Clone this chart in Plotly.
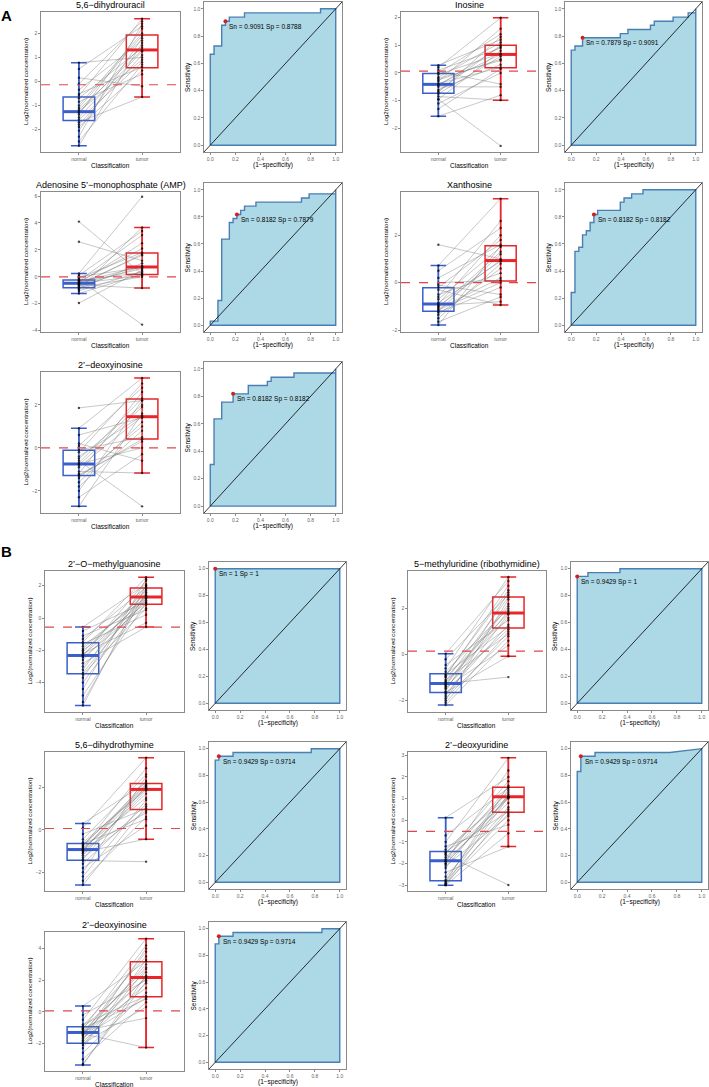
import plotly.graph_objects as go

# ---- data -------------------------------------------------------------
titles = ["5,6−dihydrouracil", "Inosine", "Adenosine 5’−monophosphate (AMP)", "Xanthosine",
          "2’−deoxyinosine", "2’−O−methylguanosine", "5−methyluridine (ribothymidine)",
          "5,6−dihydrothymine", "2’−deoxyuridine", "2’−deoxyinosine"]

# box stats: [lower whisker, q1, median, q3, upper whisker]
normal_box = [[-2.68, -1.63, -1.26, -0.65, 0.78], [-1.56, -0.73, -0.41, -0.02, 0.28],
              [-1.24, -0.81, -0.48, -0.23, 0.25], [-1.79, -1.21, -0.90, -0.21, 0.72],
              [-2.72, -1.28, -0.75, -0.11, 0.91], [-5.42, -3.45, -2.32, -1.53, -0.56],
              [-2.20, -1.65, -1.26, -0.83, 0.04], [-2.60, -1.43, -0.93, -0.64, 0.30],
              [-2.99, -2.79, -1.86, -1.44, 0.12], [-3.37, -2.00, -1.31, -0.95, 0.36]]
tumor_box = [[-0.65, 0.57, 1.31, 1.93, 2.61], [-0.98, 0.19, 0.67, 1.00, 1.99],
             [-0.84, 0.18, 0.73, 1.77, 3.67], [-0.94, 0.07, 0.93, 1.56, 3.54],
             [-1.17, 0.41, 1.45, 2.27, 3.25], [-0.56, 0.85, 1.30, 1.86, 2.52],
             [-0.07, 1.16, 1.81, 2.51, 3.38], [-0.44, 0.96, 1.90, 2.18, 3.39],
             [-1.21, 0.37, 1.09, 1.52, 2.88], [-2.27, 0.95, 2.17, 3.16, 4.63]]
cutoffs = [-0.14, 0.07, 0.0, 0.0, 0.0, -0.56, 0.15, 0.06, -0.51, 0.06]

y_ranges = [[-2.94, 2.89], [-2.85, 2.2], [-4.1, 6.3], [-2.08, 3.82], [-3.03, 3.53],
            [-5.82, 2.91], [-2.5, 3.64], [-2.88, 3.66], [-3.26, 3.15], [-3.75, 5.05]]
y_ticks = [[-2, -1, 0, 1, 2], [-2, -1, 0, 1, 2], [-4, -2, 0, 2, 4, 6], [-2, 0, 2], [-2, 0, 2],
           [-4, -2, 0, 2], [-2, 0, 2], [-2, 0, 2], [-3, -2, -1, 0, 1, 2, 3], [-2, 0, 2, 4]]

normal_pairs = [
    [0.78, 0.52, 0.15, -0.1, -0.35, -0.52, -0.6, -0.7, -0.85, -1.0, -1.1, -1.18, -1.25, -1.3, -1.38, -1.5, -1.6, -1.7, -1.8, -1.9, -2.05, -2.3, -2.5, -2.68],
    [0.28, 0.2, 0.1, 0.05, 0.0, -0.05, -0.15, -0.25, -0.3, -0.38, -0.41, -0.45, -0.5, -0.6, -0.7, -0.75, -0.85, -0.95, -0.95, -1.1, -1.3, -1.56, -0.65, -0.2],
    [4.1, 2.6, -1.95, 0.25, 0.1, 0.0, -0.1, -0.2, -0.25, -0.3, -0.4, -0.45, -0.5, -0.55, -0.6, -0.7, -0.8, -0.85, -0.95, -1.05, -1.24, -0.35, -0.65, -0.5],
    [1.6, 0.72, 0.5, 0.2, 0.0, -0.1, -0.2, -0.3, -0.5, -0.7, -0.85, -0.9, -0.95, -1.0, -1.05, -1.15, -1.2, -1.25, -1.35, -1.5, -1.65, -1.79, -0.6, -1.1],
    [1.86, 0.91, 0.6, 0.2, 0.1, -0.1, -0.2, -0.4, -0.6, -0.7, -0.75, -0.8, -0.9, -1.1, -1.2, -1.3, -1.4, -1.6, -1.8, -2.0, -2.3, -2.72, -0.5, -1.25],
    [-0.56, -0.8, -1.1, -1.3, -1.5, -1.6, -1.75, -1.9, -2.0, -2.1, -2.2, -2.3, -2.35, -2.45, -2.6, -2.8, -3.0, -3.2, -3.4, -3.5, -3.7, -4.0, -4.4, -4.8, -5.2, -5.42],
    [0.04, -0.2, -0.45, -0.6, -0.75, -0.85, -0.9, -1.0, -1.1, -1.15, -1.2, -1.26, -1.3, -1.4, -1.45, -1.5, -1.6, -1.65, -1.7, -1.8, -1.9, -2.0, -2.1, -2.2, -1.35, -0.95],
    [0.3, 0.1, -0.2, -0.45, -0.6, -0.65, -0.7, -0.8, -0.85, -0.9, -0.93, -0.95, -1.0, -1.05, -1.1, -1.2, -1.3, -1.4, -1.45, -1.6, -1.8, -2.0, -2.2, -2.4, -2.6, -0.75],
    [0.12, -0.7, -1.0, -1.2, -1.35, -1.45, -1.5, -1.6, -1.7, -1.8, -1.86, -1.9, -2.0, -2.1, -2.2, -2.4, -2.6, -2.75, -2.8, -2.85, -2.9, -2.95, -2.99, -2.99, -1.55, -2.0],
    [0.36, -0.2, -0.5, -0.8, -0.9, -1.0, -1.05, -1.1, -1.2, -1.25, -1.3, -1.35, -1.4, -1.5, -1.6, -1.7, -1.8, -1.9, -2.0, -2.1, -2.3, -2.6, -3.0, -3.37, -3.3, -1.45],
]
tumor_pairs = [
    [1.0, 2.3, -0.2, 2.5, 1.7, 0.6, 2.61, 1.4, 0.3, 2.0, 1.9, 1.3, 0.9, 1.5, 2.2, 1.25, 0.8, -0.65, 1.1, 0.45, 1.8, 2.4, 0.7, 1.6],
    [1.2, 1.99, 0.9, -0.4, 1.4, 0.7, 1.1, 0.5, 1.6, 0.2, 0.67, 0.95, -0.5, 0.3, 1.3, 0.6, -0.98, 0.8, -2.63, 0.0, 0.15, -0.8, 1.0, 0.45],
    [0.2, 1.2, 0.5, 5.95, 3.4, 0.7, 1.8, -3.55, 0.3, 3.1, 0.8, 2.5, 0.1, 1.6, -0.84, 0.75, 0.0, 1.0, 3.67, 0.4, 0.2, 2.1, 1.7, 0.6],
    [1.0, 3.54, 2.3, 1.6, 0.1, -0.5, 1.8, -0.94, 0.4, 1.5, 0.9, 2.0, -0.8, 0.95, 1.3, 0.0, 1.2, -0.2, 0.6, 0.8, -0.6, 1.55, 2.6, 0.2],
    [2.2, 3.25, 1.4, -0.6, 2.8, 0.5, 3.0, 1.5, -2.72, 2.3, 0.0, 1.9, 1.45, -1.17, 2.6, 0.4, 1.0, 1.2, 0.8, 2.2, -0.3, 1.6, 2.0, 0.3],
    [2.1, 1.0, 0.5, 1.9, 2.52, 0.2, 1.3, 1.5, 0.9, 1.7, -0.3, 1.2, 2.3, 0.8, 1.4, -0.56, 1.1, 2.0, 1.35, 0.6, 1.8, 1.25, 2.4, 0.95, 1.6, 2.0],
    [3.2, 2.6, 1.5, 3.38, 2.0, 1.2, 2.8, 1.8, 0.9, 2.5, 1.6, -0.98, 2.2, 1.1, 0.4, 1.9, 2.7, -0.07, 1.3, 1.75, 0.8, 2.4, 1.0, 0.6, 2.1, 3.0],
    [2.2, 3.39, 1.0, 2.6, 1.9, 0.5, 2.0, 2.9, 1.5, 2.1, 0.8, 1.95, 2.3, -0.44, 1.7, 1.85, 0.9, 2.05, -1.5, 1.2, 0.2, 2.5, 1.4, 0.6, 1.1, 2.15],
    [2.0, 1.5, 2.88, -0.2, 1.1, 0.4, 1.3, -2.98, 1.0, 1.52, 0.8, 2.3, 1.05, 0.2, 1.4, -1.21, 0.6, 1.2, 0.3, 1.6, 0.0, 1.08, 0.5, -0.6, 1.8, 1.1],
    [3.2, 2.0, 4.63, 1.0, 3.5, 2.5, 0.8, 4.2, -0.4, 2.8, 2.1, 1.5, -2.27, 3.0, 0.9, 2.2, 4.0, 1.8, 0.3, 2.7, 3.3, 1.2, 0.6, 2.3, 1.9, 3.8],
]

roc_fpr = [
    [0, 0, 0.030, 0.030, 0.091, 0.091, 0.121, 0.121, 0.152, 0.152, 0.273, 0.273, 0.879, 0.879, 1],
    [0, 0, 0.030, 0.030, 0.091, 0.091, 0.394, 0.394, 0.455, 0.455, 0.636, 0.636, 0.667, 0.667, 0.818, 0.818, 0.939, 0.939, 1, 1],
    [0, 0, 0.061, 0.061, 0.091, 0.091, 0.152, 0.152, 0.182, 0.182, 0.212, 0.212, 0.242, 0.242, 0.273, 0.273, 0.364, 0.364, 0.727, 0.727, 0.788, 0.788, 1, 1],
    [0, 0, 0.030, 0.030, 0.061, 0.061, 0.091, 0.091, 0.121, 0.121, 0.152, 0.152, 0.182, 0.182, 0.212, 0.212, 0.394, 0.394, 0.424, 0.424, 0.485, 0.485, 0.576, 0.576, 1],
    [0, 0, 0.030, 0.030, 0.091, 0.091, 0.182, 0.182, 0.303, 0.303, 0.455, 0.455, 0.485, 0.485, 0.667, 0.667, 1, 1],
    [0, 0, 1],
    [0, 0, 0.086, 0.086, 0.343, 0.343, 1],
    [0, 0, 0.029, 0.029, 0.143, 0.143, 0.771, 0.771, 1],
    [0, 0, 0.029, 0.029, 0.143, 0.143, 0.743, 1],
    [0, 0, 0.029, 0.029, 0.143, 0.143, 0.857, 0.857, 1],
]
roc_tpr = [
    [0, 0.667, 0.667, 0.727, 0.727, 0.879, 0.879, 0.909, 0.909, 0.939, 0.939, 0.970, 0.970, 1, 1],
    [0, 0.697, 0.697, 0.727, 0.727, 0.788, 0.788, 0.818, 0.818, 0.848, 0.848, 0.879, 0.879, 0.909, 0.909, 0.939, 0.939, 0.970, 0.970, 1],
    [0, 0.030, 0.030, 0.182, 0.182, 0.636, 0.636, 0.758, 0.758, 0.788, 0.788, 0.818, 0.818, 0.848, 0.848, 0.879, 0.879, 0.909, 0.909, 0.939, 0.939, 0.970, 0.970, 1],
    [0, 0.242, 0.242, 0.545, 0.545, 0.576, 0.576, 0.667, 0.667, 0.697, 0.697, 0.758, 0.758, 0.818, 0.818, 0.848, 0.848, 0.909, 0.909, 0.939, 0.939, 0.970, 0.970, 1, 1],
    [0, 0.303, 0.303, 0.636, 0.636, 0.758, 0.758, 0.818, 0.818, 0.879, 0.879, 0.909, 0.909, 0.939, 0.939, 0.970, 0.970, 1],
    [0, 1, 1],
    [0, 0.943, 0.943, 0.971, 0.971, 1, 1],
    [0, 0.914, 0.914, 0.943, 0.943, 0.971, 0.971, 1, 1],
    [0, 0.829, 0.829, 0.943, 0.943, 0.971, 0.971, 1],
    [0, 0.886, 0.886, 0.943, 0.943, 0.971, 0.971, 1, 1],
]
best_fpr = [0.121, 0.091, 0.212, 0.182, 0.182, 0.0, 0.0, 0.029, 0.029, 0.029]
best_tpr = [0.909, 0.788, 0.818, 0.818, 0.818, 1.0, 0.943, 0.943, 0.943, 0.943]
snsp_text = ["Sn = 0.9091 Sp = 0.8788", "Sn = 0.7879 Sp = 0.9091", "Sn = 0.8182 Sp = 0.7879",
             "Sn = 0.8182 Sp = 0.8182", "Sn = 0.8182 Sp = 0.8182", "Sn = 1 Sp = 1",
             "Sn = 0.9429 Sp = 1", "Sn = 0.9429 Sp = 0.9714", "Sn = 0.9429 Sp = 0.9714",
             "Sn = 0.9429 Sp = 0.9714"]
roc_ticks = [0, 0.2, 0.4, 0.6, 0.8, 1.0]

# ---- layout (pixels) ---------------------------------------------------
W, H = 709, 1087
cols = {"AL": ((41, 180), (204, 342)), "AR": ((401, 538), (565, 702)),
        "BL": ((45, 184), (209, 346)), "BR": ((408, 546), (571, 708))}
rows = {"A1": ((12, 152), (2, 152)), "A2": ((192, 332), (183, 332)), "A3": ((372, 513), (362, 513)),
        "B1": ((571, 712), (562, 710)), "B2": ((752, 891), (742, 889)), "B3": ((932, 1071), (922, 1069))}
panel_pos = [("AL", "A1"), ("AR", "A1"), ("AL", "A2"), ("AR", "A2"), ("AL", "A3"),
             ("BL", "B1"), ("BR", "B1"), ("BL", "B2"), ("BR", "B2"), ("BL", "B3")]

FONT = "Liberation Sans, Arial, sans-serif"
BLUE = "#3A5FCD"
RED = "#E8262A"
FRAME = "#8a8a8a"

axis_style = dict(showline=True, mirror=True, linecolor=FRAME, linewidth=1.2, showgrid=False,
                  zeroline=False, ticks="outside", ticklen=1.5, tickwidth=0.8, tickcolor=FRAME,
                  tickfont=dict(size=5, color="#666666", family=FONT))

fig = go.Figure()
layout = dict(width=W, height=H, margin=dict(l=0, r=0, t=0, b=0), paper_bgcolor="white",
              plot_bgcolor="white", showlegend=False, font=dict(family=FONT))
annotations = []


def fx(x):
    return x / W


def fy(y):
    return 1 - y / H


def text(x, y, s, size, angle=0, bold=False, xanchor="center", yanchor="middle"):
    annotations.append(dict(x=fx(x), y=fy(y), xref="paper", yref="paper", text=f"<b>{s}</b>" if bold else s,
                            showarrow=False, textangle=angle, xanchor=xanchor, yanchor=yanchor,
                            font=dict(size=size, color="black", family=FONT)))


for i in range(10):
    c, r = panel_pos[i]
    (bx0, bx1), (rx0, rx1) = cols[c]
    (by0, by1), (ry0, ry1) = rows[r]
    nb, nr = 2 * i + 1, 2 * i + 2
    xb = "x" if nb == 1 else f"x{nb}"
    yb = "y" if nb == 1 else f"y{nb}"
    xr, yr = f"x{nr}", f"y{nr}"

    layout["xaxis" if nb == 1 else f"xaxis{nb}"] = dict(
        axis_style, domain=[fx(bx0), fx(bx1)], range=[0.4, 2.6], anchor=yb,
        tickvals=[1, 2], ticktext=["normal", "tumor"])
    layout["yaxis" if nb == 1 else f"yaxis{nb}"] = dict(
        axis_style, domain=[fy(by1), fy(by0)], range=y_ranges[i], anchor=xb, tickvals=y_ticks[i])
    layout[f"xaxis{nr}"] = dict(axis_style, domain=[fx(rx0), fx(rx1)], range=[-0.05, 1.05], anchor=yr,
                                tickvals=roc_ticks, tickformat=".1f")
    layout[f"yaxis{nr}"] = dict(axis_style, domain=[fy(ry1), fy(ry0)], range=[-0.05, 1.05], anchor=xr,
                                tickvals=roc_ticks, tickformat=".1f")

    # paired lines
    lx, ly = [], []
    for a, b in zip(normal_pairs[i], tumor_pairs[i]):
        lx += [1, 2, None]
        ly += [a, b, None]
    fig.add_trace(go.Scatter(x=lx, y=ly, mode="lines", line=dict(color="rgba(110,110,110,0.55)", width=0.7),
                             xaxis=xb, yaxis=yb, hoverinfo="skip"))

    # boxes
    for pos, st, col in [(1, normal_box[i], BLUE), (2, tumor_box[i], RED)]:
        fig.add_trace(go.Scatter(x=[pos, pos], y=[st[0], st[4]], mode="lines",
                                 line=dict(color=col, width=1.5), xaxis=xb, yaxis=yb, hoverinfo="skip"))
        fig.add_trace(go.Box(x=[pos], lowerfence=[st[0]], q1=[st[1]], median=[st[2]], q3=[st[3]],
                             upperfence=[st[4]], width=0.5, whiskerwidth=0.5, boxpoints=False,
                             line=dict(color=col, width=1.5), fillcolor="rgba(0,0,0,0)",
                             xaxis=xb, yaxis=yb))
        fig.add_trace(go.Scatter(x=[pos - 0.25, pos + 0.25], y=[st[2], st[2]], mode="lines",
                                 line=dict(color=col, width=3), xaxis=xb, yaxis=yb, hoverinfo="skip"))

    # points
    n = len(normal_pairs[i])
    fig.add_trace(go.Scatter(x=[1] * n + [2] * n, y=normal_pairs[i] + tumor_pairs[i], mode="markers",
                             marker=dict(color="rgba(0,0,0,0.7)", size=2.4), xaxis=xb, yaxis=yb))
    # cut-off line
    fig.add_trace(go.Scatter(x=[0.4, 2.6], y=[cutoffs[i], cutoffs[i]], mode="lines",
                             line=dict(color="#E0474C", width=1.2, dash="dash"), xaxis=xb, yaxis=yb))

    # ROC area
    fig.add_trace(go.Scatter(x=roc_fpr[i] + [1, 0], y=roc_tpr[i] + [0, 0], mode="lines", fill="toself",
                             fillcolor="#ADD8E6", line=dict(color="#4A7FB3", width=1.4),
                             xaxis=xr, yaxis=yr, hoverinfo="skip"))
    fig.add_trace(go.Scatter(x=[-0.05, 1.05], y=[-0.05, 1.05], mode="lines", line=dict(color="black", width=0.8),
                             xaxis=xr, yaxis=yr, hoverinfo="skip"))
    fig.add_trace(go.Scatter(x=[best_fpr[i]], y=[best_tpr[i]], mode="markers",
                             marker=dict(color="#D02020", size=4), xaxis=xr, yaxis=yr))
    annotations.append(dict(x=best_fpr[i] + 0.015, y=best_tpr[i] - 0.04, xref=xr, yref=yr,
                            text=snsp_text[i], showarrow=False, xanchor="left", yanchor="middle",
                            font=dict(size=6.5, color="black", family=FONT)))

    # titles and axis labels
    text((bx0 + bx1) / 2, by0 - 7, titles[i], 9)
    text(bx0 - 16, (by0 + by1) / 2, "Log2(normalized concentration)", 6.2, angle=-90)
    text((bx0 + bx1) / 2, by1 + 13, "Classification", 6.5)
    text(rx0 - 16, (ry0 + ry1) / 2, "Sensitivity", 6.5, angle=-90)
    text((rx0 + rx1) / 2, ry1 + 13, "(1−specificity)", 6.5)

text(6, 16, "A", 15, bold=True)
text(6, 551, "B", 15, bold=True)

layout["annotations"] = annotations
fig.update_layout(**layout)
fig.write_html("out.html", config={"displayModeBar": False},
               post_script="document.body.style.margin='0';document.body.style.overflow='hidden';")
